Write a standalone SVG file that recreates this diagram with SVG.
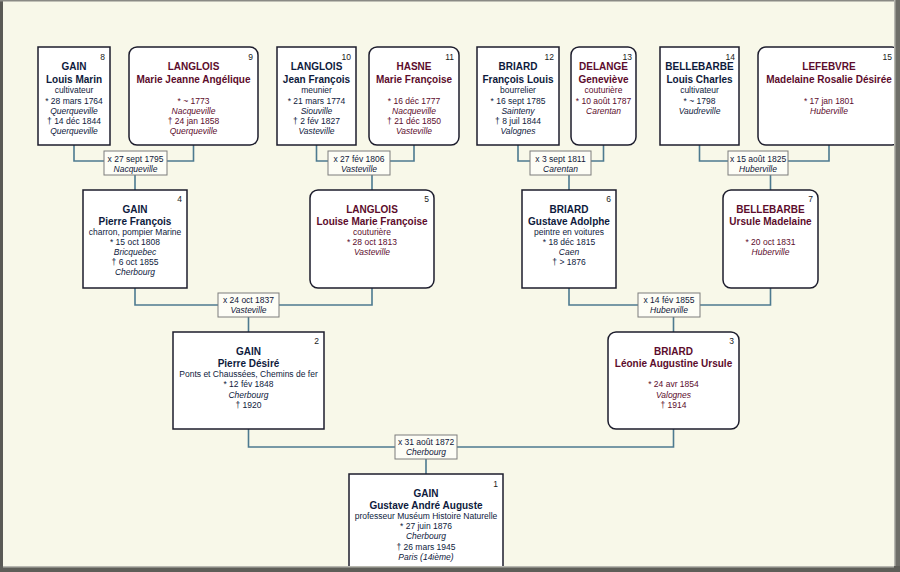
<svg xmlns="http://www.w3.org/2000/svg" width="900" height="572" viewBox="0 0 900 572">
<defs>
<style>
text{font-family:"Liberation Sans",Arial,sans-serif;text-anchor:middle;}
.n{fill:#ffffff;stroke:#1c1c2c;stroke-width:1.5}
.mb{fill:#fdfdf6;stroke:#7c7c7c;stroke-width:1}
.c{fill:none;stroke:#4d7a90;stroke-width:1.6}
.b{font-size:10px;font-weight:bold}
.s{font-size:8.5px}
.i{font-style:italic}
.num{font-size:8.5px;text-anchor:end}
.M text{fill:#0e1a3c}
.F text{fill:#5c0c2c}
g text.num{fill:#1a1a1a}
.mt{font-size:8.5px;fill:#10183a}
</style>
</defs>
<rect x="0" y="0" width="900" height="572" fill="#f8f8e9"/>

<g id="connectors">
<path class="c" d="M74 145V161H193.5V145M135 175V190"/>
<path class="c" d="M316.5 145V161H414V145M372 175V190"/>
<path class="c" d="M518 145V161H603.5V145M569 175V190"/>
<path class="c" d="M699.5 145V161H829V145M770.5 175V190"/>
<path class="c" d="M135 288V305H372V288M248.5 317V332"/>
<path class="c" d="M569 288V305H770.5V288M673.5 317V332"/>
<path class="c" d="M248.5 429V447H673.5V429M426 459V474"/>
</g>

<g id="marriages">
<g id="m1"><rect class="mb" x="104" y="151" width="63" height="24"/><text class="mt" x="135.5" y="161.5">x 27 sept 1795</text><text class="mt i" x="135.5" y="171.5">Nacqueville</text></g>
<g id="m2"><rect class="mb" x="328" y="151" width="62" height="24"/><text class="mt" x="359" y="161.5">x 27 fév 1806</text><text class="mt i" x="359" y="171.5">Vasteville</text></g>
<g id="m3"><rect class="mb" x="530" y="151" width="61" height="24"/><text class="mt" x="560.5" y="161.5">x 3 sept 1811</text><text class="mt i" x="560.5" y="171.5">Carentan</text></g>
<g id="m4"><rect class="mb" x="728" y="151" width="60" height="24"/><text class="mt" x="758" y="161.5">x 15 août 1825</text><text class="mt i" x="758" y="171.5">Huberville</text></g>
<g id="m5"><rect class="mb" x="218" y="293" width="61" height="24"/><text class="mt" x="248.5" y="303">x 24 oct 1837</text><text class="mt i" x="248.5" y="313">Vasteville</text></g>
<g id="m6"><rect class="mb" x="638" y="293" width="62" height="24"/><text class="mt" x="669" y="303">x 14 fév 1855</text><text class="mt i" x="669" y="313">Huberville</text></g>
<g id="m7"><rect class="mb" x="395" y="435" width="62" height="24"/><text class="mt" x="426" y="444.5">x 31 août 1872</text><text class="mt i" x="426" y="455">Cherbourg</text></g>
</g>

<g id="p8" class="M">
<rect class="n" x="38" y="47" width="72" height="98"/>
<text class="num" x="105" y="59.5">8</text>
<text class="b" x="74" y="70">GAIN</text>
<text class="b" x="74" y="82.5">Louis Marin</text>
<text class="s" x="74" y="93">cultivateur</text>
<text class="s" x="74" y="103.5">* 28 mars 1764</text>
<text class="s i" x="74" y="113.5">Querqueville</text>
<text class="s" x="74" y="123.5">† 14 déc 1844</text>
<text class="s i" x="74" y="133.5">Querqueville</text>
</g>

<g id="p9" class="F">
<rect class="n" x="129" y="47" width="129" height="98" rx="8"/>
<text class="num" x="253" y="59.5">9</text>
<text class="b" x="193.5" y="70">LANGLOIS</text>
<text class="b" x="193.5" y="82.5">Marie Jeanne Angélique</text>
<text class="s" x="193.5" y="103.5">* ~ 1773</text>
<text class="s i" x="193.5" y="113.5">Nacqueville</text>
<text class="s" x="193.5" y="123.5">† 24 jan 1858</text>
<text class="s i" x="193.5" y="133.5">Querqueville</text>
</g>

<g id="p10" class="M">
<rect class="n" x="277" y="47" width="79" height="98"/>
<text class="num" x="351" y="59.5">10</text>
<text class="b" x="316.5" y="70">LANGLOIS</text>
<text class="b" x="316.5" y="82.5">Jean François</text>
<text class="s" x="316.5" y="93">meunier</text>
<text class="s" x="316.5" y="103.5">* 21 mars 1774</text>
<text class="s i" x="316.5" y="113.5">Siouville</text>
<text class="s" x="316.5" y="123.5">† 2 fév 1827</text>
<text class="s i" x="316.5" y="133.5">Vasteville</text>
</g>

<g id="p11" class="F">
<rect class="n" x="369" y="47" width="90" height="98" rx="8"/>
<text class="num" x="454" y="59.5">11</text>
<text class="b" x="414" y="70">HASNE</text>
<text class="b" x="414" y="82.5">Marie Françoise</text>
<text class="s" x="414" y="103.5">* 16 déc 1777</text>
<text class="s i" x="414" y="113.5">Nacqueville</text>
<text class="s" x="414" y="123.5">† 21 déc 1850</text>
<text class="s i" x="414" y="133.5">Vasteville</text>
</g>

<g id="p12" class="M">
<rect class="n" x="477" y="47" width="82" height="98"/>
<text class="num" x="554" y="59.5">12</text>
<text class="b" x="518" y="70">BRIARD</text>
<text class="b" x="518" y="82.5">François Louis</text>
<text class="s" x="518" y="93">bourrelier</text>
<text class="s" x="518" y="103.5">* 16 sept 1785</text>
<text class="s i" x="518" y="113.5">Sainteny</text>
<text class="s" x="518" y="123.5">† 8 juil 1844</text>
<text class="s i" x="518" y="133.5">Valognes</text>
</g>

<g id="p13" class="F">
<rect class="n" x="571" y="47" width="65" height="98" rx="8"/>
<text class="num" x="632" y="59.5">13</text>
<text class="b" x="603.5" y="70">DELANGE</text>
<text class="b" x="603.5" y="82.5">Geneviève</text>
<text class="s" x="603.5" y="93">couturière</text>
<text class="s" x="603.5" y="103.5">* 10 août 1787</text>
<text class="s i" x="603.5" y="113.5">Carentan</text>
</g>

<g id="p14" class="M">
<rect class="n" x="660" y="47" width="79" height="98"/>
<text class="num" x="735" y="59.5">14</text>
<text class="b" x="699.5" y="70">BELLEBARBE</text>
<text class="b" x="699.5" y="82.5">Louis Charles</text>
<text class="s" x="699.5" y="93">cultivateur</text>
<text class="s" x="699.5" y="103.5">* ~ 1798</text>
<text class="s i" x="699.5" y="113.5">Vaudreville</text>
</g>

<g id="p15" class="F">
<rect class="n" x="758" y="47" width="142" height="98" rx="8"/>
<text class="num" x="892" y="59.5">15</text>
<text class="b" x="829" y="70">LEFEBVRE</text>
<text class="b" x="829" y="82.5">Madelaine Rosalie Désirée</text>
<text class="s" x="829" y="103.5">* 17 jan 1801</text>
<text class="s i" x="829" y="113.5">Huberville</text>
</g>

<g id="p4" class="M">
<rect class="n" x="83" y="190" width="104" height="98"/>
<text class="num" x="182" y="202">4</text>
<text class="b" x="135" y="212.5">GAIN</text>
<text class="b" x="135" y="224.5">Pierre François</text>
<text class="s" x="135" y="235">charron, pompier Marine</text>
<text class="s" x="135" y="245">* 15 oct 1808</text>
<text class="s i" x="135" y="255">Bricquebec</text>
<text class="s" x="135" y="265">† 6 oct 1855</text>
<text class="s i" x="135" y="275">Cherbourg</text>
</g>

<g id="p5" class="F">
<rect class="n" x="310" y="190" width="124" height="98" rx="8"/>
<text class="num" x="429" y="202">5</text>
<text class="b" x="372" y="212.5">LANGLOIS</text>
<text class="b" x="372" y="224.5">Louise Marie Françoise</text>
<text class="s" x="372" y="235">couturière</text>
<text class="s" x="372" y="245">* 28 oct 1813</text>
<text class="s i" x="372" y="255">Vasteville</text>
</g>

<g id="p6" class="M">
<rect class="n" x="522" y="190" width="94" height="98"/>
<text class="num" x="611" y="202">6</text>
<text class="b" x="569" y="212.5">BRIARD</text>
<text class="b" x="569" y="224.5">Gustave Adolphe</text>
<text class="s" x="569" y="235">peintre en voitures</text>
<text class="s" x="569" y="245">* 18 déc 1815</text>
<text class="s i" x="569" y="255">Caen</text>
<text class="s" x="569" y="265">† &gt; 1876</text>
</g>

<g id="p7" class="F">
<rect class="n" x="723" y="190" width="95" height="98" rx="8"/>
<text class="num" x="813" y="202">7</text>
<text class="b" x="770.5" y="212.5">BELLEBARBE</text>
<text class="b" x="770.5" y="224.5">Ursule Madelaine</text>
<text class="s" x="770.5" y="245">* 20 oct 1831</text>
<text class="s i" x="770.5" y="255">Huberville</text>
</g>

<g id="p2" class="M">
<rect class="n" x="173" y="332" width="151" height="97"/>
<text class="num" x="319" y="344">2</text>
<text class="b" x="248.5" y="354.5">GAIN</text>
<text class="b" x="248.5" y="366.5">Pierre Désiré</text>
<text class="s" x="248.5" y="377">Ponts et Chaussées, Chemins de fer</text>
<text class="s" x="248.5" y="387">* 12 fév 1848</text>
<text class="s i" x="248.5" y="397.5">Cherbourg</text>
<text class="s" x="248.5" y="408">† 1920</text>
</g>

<g id="p3" class="F">
<rect class="n" x="608" y="332" width="131" height="97" rx="8"/>
<text class="num" x="734" y="344">3</text>
<text class="b" x="673.5" y="354.5">BRIARD</text>
<text class="b" x="673.5" y="366.5">Léonie Augustine Ursule</text>
<text class="s" x="673.5" y="387">* 24 avr 1854</text>
<text class="s i" x="673.5" y="397.5">Valognes</text>
<text class="s" x="673.5" y="408">† 1914</text>
</g>

<g id="p1" class="M">
<rect class="n" x="349" y="474" width="154" height="110"/>
<text class="num" x="498" y="486.5">1</text>
<text class="b" x="426" y="497">GAIN</text>
<text class="b" x="426" y="508.5">Gustave André Auguste</text>
<text class="s" x="426" y="518.5">professeur Muséum Histoire Naturelle</text>
<text class="s" x="426" y="528.5">* 27 juin 1876</text>
<text class="s i" x="426" y="539">Cherbourg</text>
<text class="s" x="426" y="549.5">† 26 mars 1945</text>
<text class="s i" x="426" y="559.5">Paris (14ième)</text>
</g>

<g id="frame">
<rect x="0" y="0" width="3" height="572" fill="#5a5a55"/>
<rect x="0" y="0" width="900" height="1.5" fill="#8a8a85"/>
<rect x="894" y="0" width="6" height="572" fill="#6e6e68"/>
<rect x="894" y="0" width="1.5" height="566" fill="#b8b8b0"/>
<rect x="0" y="566" width="900" height="6" fill="#5e5e58"/>
<rect x="3" y="566" width="891" height="1.5" fill="#b8b8b0"/>
</g>
</svg>
